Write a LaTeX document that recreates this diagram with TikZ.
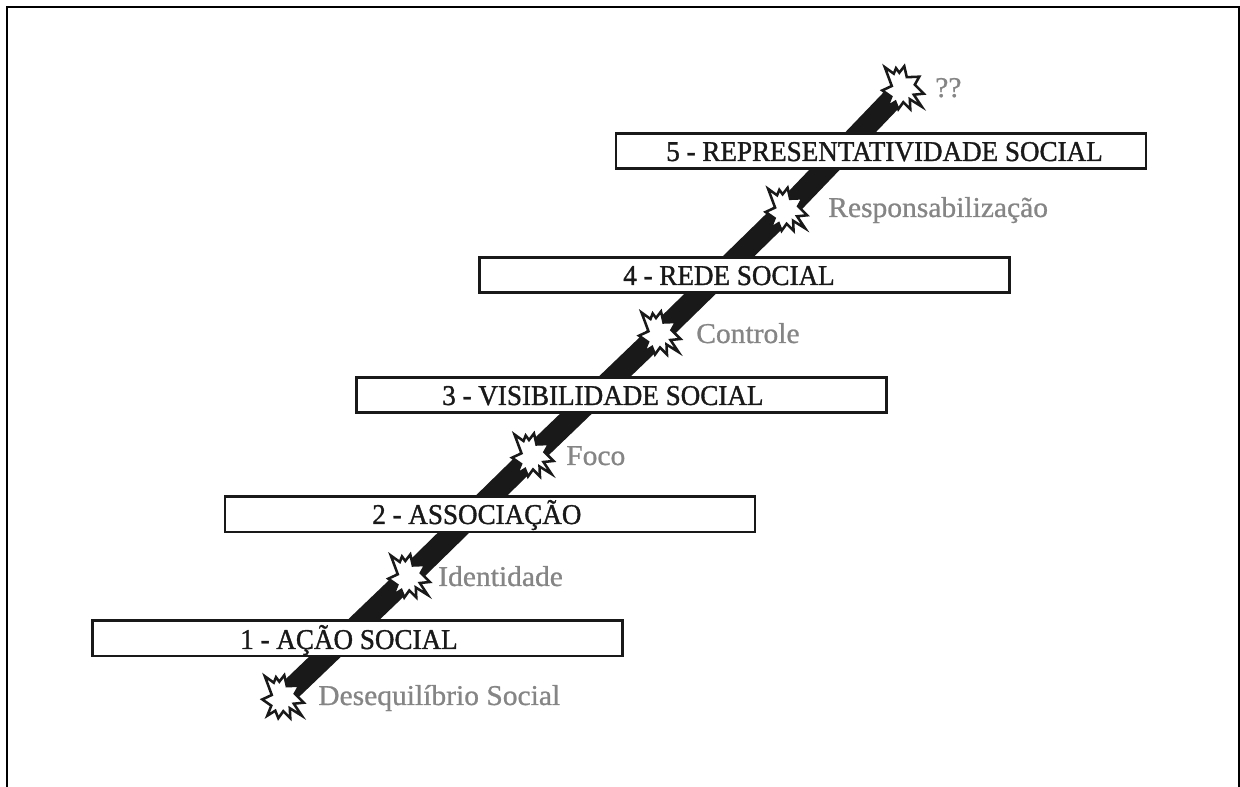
\documentclass[tikz,border=0pt]{standalone}
\usepackage{fontspec}
\newfontfamily\barfont[FakeBold=1.2,FakeStretch=0.945]{Liberation Serif}
\newfontfamily\lblfont[FakeStretch=1.03,FakeBold=0.8]{Liberation Serif}
\newcommand{\burstshape}{(-18.5,-20.5) -- (-9.5,-14) -- (-7.3,-19.5) -- (-4,-15) -- (1,-21.5) -- (3.5,-10.5) -- (16,-11) -- (11.5,-3) -- (20.5,6) -- (10.5,7) -- (18.5,19) -- (6.5,11.5) -- (7,21.5) -- (0,14.5) -- (-5,21.5) -- (-8,14) -- (-16,19) -- (-12,9) -- (-21,2.7) -- (-11.5,-1.7) -- cycle}
\tikzset{
  x=0.75pt,y=-0.75pt,
  framepath/.style={draw=black,line width=1.8pt,line cap=butt},
  band/.style={draw=black!90,line width=16.5pt,line cap=butt},
  barbox/.style={draw=black!90,fill=white,line width=2pt,rectangle,minimum width=397.5pt,inner sep=0pt},
  bartext/.style={font={\barfont\fontsize{21.5}{24}\selectfont},text=black!90,inner sep=0pt,anchor=base west},
  lbl/.style={font={\lblfont\fontsize{21.5}{24}\selectfont},text=black!48,inner sep=0pt,anchor=base west},
  burst/.style={draw=black!90,fill=white,line width=1.9pt,line join=miter,miter limit=8},
}
\begin{document}
\begin{tikzpicture}
\useasboundingbox (0,0) rectangle (1240,787);
\fill[white] (0,0) rectangle (1240,787);
\coordinate (fb) at (7,787);
\coordinate (ftl) at (7,7);
\coordinate (ftr) at (1239,7);
\coordinate (fbr) at (1239,787);
\draw[framepath] (fb) -- (ftl) -- (ftr) -- (fbr);
\coordinate (c1) at (283.3,696.7);
\coordinate (c2) at (409.3,576);
\coordinate (c3) at (533,455);
\coordinate (c4) at (660,333);
\coordinate (c5) at (786.6,209.3);
\coordinate (c6) at (903.3,87.7);
\draw[band] (c1) -- (c2) -- (c3) -- (c4) -- (c5) -- (c6);
\foreach \c in {c1,c2,c3,c4,c5,c6}{
  \begin{scope}[shift={(\c)}]
    \draw[burst] \burstshape;
  \end{scope}
}
\node[barbox,minimum height=26.5pt] (b1) at (357.5,638.5) {};
\node[barbox,minimum height=26.5pt] (b2) at (490,514.5) {};
\node[barbox,minimum height=26.5pt] (b3) at (621.5,395) {};
\node[barbox,minimum height=26.5pt] (b4) at (744.5,275) {};
\node[barbox,minimum height=26.5pt] (b5) at (881,151) {};
\node[bartext] (t1) at (240,649) {1 - AÇÃO SOCIAL};
\node[bartext] (t2) at (372,524) {2 - ASSOCIAÇÃO};
\node[bartext] (t3) at (442,405) {3 - VISIBILIDADE SOCIAL};
\node[bartext] (t4) at (623,285) {4 - REDE SOCIAL};
\node[bartext] (t5) at (666,161) {5 - REPRESENTATIVIDADE SOCIAL};
\node[lbl] (l1) at (318,705) {Desequilíbrio Social};
\node[lbl] (l2) at (438,586) {Identidade};
\node[lbl] (l3) at (566,465) {Foco};
\node[lbl] (l4) at (696,343) {Controle};
\node[lbl] (l5) at (828,217) {Responsabilização};
\node[lbl] (l6) at (935,97) {??};
\end{tikzpicture}
\end{document}
